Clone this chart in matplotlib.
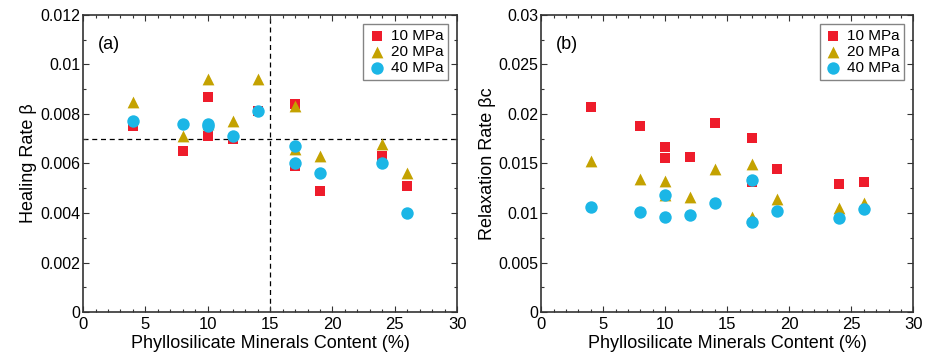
import numpy as np
import matplotlib
matplotlib.use("Agg")
import matplotlib.pyplot as plt
from matplotlib.ticker import MultipleLocator, FormatStrFormatter

plt.rcParams['font.family'] = ['Liberation Sans', 'DejaVu Sans']

# phyllosilicate content (%) of the samples
x = [4, 8, 10, 10, 12, 14, 17, 17, 19, 24, 26]

# healing rate beta
heal_10 = [0.0075, 0.0065, 0.0087, 0.0071, 0.0070, 0.0081, 0.0084, 0.0059, 0.0049, 0.0063, 0.0051]
heal_20 = [0.0085, 0.0071, 0.0094, 0.0076, 0.0077, 0.0094, 0.0083, 0.0066, 0.0063, 0.0068, 0.0056]
heal_40 = [0.0077, 0.0076, 0.0076, 0.0075, 0.0071, 0.0081, 0.0067, 0.0060, 0.0056, 0.0060, 0.0040]

# relaxation rate beta_c
relax_10 = [0.0207, 0.0188, 0.0167, 0.0155, 0.0157, 0.0191, 0.0176, 0.0131, 0.0144, 0.0129, 0.0131]
relax_20 = [0.0152, 0.0134, 0.0132, 0.0118, 0.0116, 0.0144, 0.0149, 0.0096, 0.0114, 0.0105, 0.0110]
relax_40 = [0.0106, 0.0101, 0.0118, 0.0096, 0.0098, 0.0110, 0.0133, 0.0091, 0.0102, 0.0095, 0.0104]

labels = ["10 MPa", "20 MPa", "40 MPa"]
red = "#ee1c2b"
gold = "#c4a200"
cyan = "#1bb6e6"

fig = plt.figure(figsize=(9.33, 3.62), dpi=100)
ax1 = fig.add_axes([0.089, 0.138, 0.401, 0.821])
ax2 = fig.add_axes([0.580, 0.138, 0.399, 0.821])


def draw(ax, s10, s20, s40, ymax, ymaj, ymin, ylabel, tag):
    ax.scatter(x, s10, marker="s", s=42, color=red, label=labels[0], zorder=3, linewidths=0)
    ax.scatter(x, s20, marker="^", s=72, color=gold, label=labels[1], zorder=3, linewidths=0)
    ax.scatter(x, s40, marker="o", s=80, color=cyan, label=labels[2], zorder=3, linewidths=0)
    ax.set_xlim(0, 30)
    ax.set_ylim(0, ymax)
    ax.xaxis.set_major_locator(MultipleLocator(5))
    ax.xaxis.set_minor_locator(MultipleLocator(1))
    ax.yaxis.set_major_locator(MultipleLocator(ymaj))
    ax.yaxis.set_minor_locator(MultipleLocator(ymin))
    ax.yaxis.set_major_formatter(FormatStrFormatter("%g"))
    ax.tick_params(which="both", direction="in", top=True, right=True, width=0.8, color="#333333")
    ax.tick_params(which="major", length=4)
    ax.tick_params(which="minor", length=2)
    ax.tick_params(axis="y", labelsize=11.5, pad=2)
    for lab in ax.get_xticklabels():
        lab.set_family(["Liberation Sans Narrow", "Liberation Sans"])
        lab.set_fontsize(12)
    for sp in ax.spines.values():
        sp.set_linewidth(1.2)
        sp.set_color("#333333")
    ax.set_xlabel("Phyllosilicate Minerals Content (%)", fontsize=13,
                  family=["Liberation Sans Narrow", "Liberation Sans"], labelpad=2)
    ax.set_ylabel(ylabel, fontsize=13, labelpad=2)
    ax.text(0.04, 0.93, tag, transform=ax.transAxes, fontsize=13, va="top")
    leg = ax.legend(loc="upper right", fontsize=11, frameon=True, fancybox=False,
                    borderpad=0.3, handletextpad=0.3, labelspacing=0.15,
                    handlelength=1.2, borderaxespad=0.6)
    leg.get_frame().set_edgecolor("#666666")
    leg.get_frame().set_linewidth(1.0)


draw(ax1, heal_10, heal_20, heal_40, 0.012, 0.002, 0.001, "Healing Rate β", "(a)")
ax1.axvline(15, color="black", ls=(0, (4, 3)), lw=0.9, zorder=1)
ax1.axhline(0.007, color="black", ls=(0, (4, 3)), lw=0.9, zorder=1)

draw(ax2, relax_10, relax_20, relax_40, 0.03, 0.005, 0.0025, "Relaxation Rate βc", "(b)")

fig.savefig("out.png", dpi=100)
